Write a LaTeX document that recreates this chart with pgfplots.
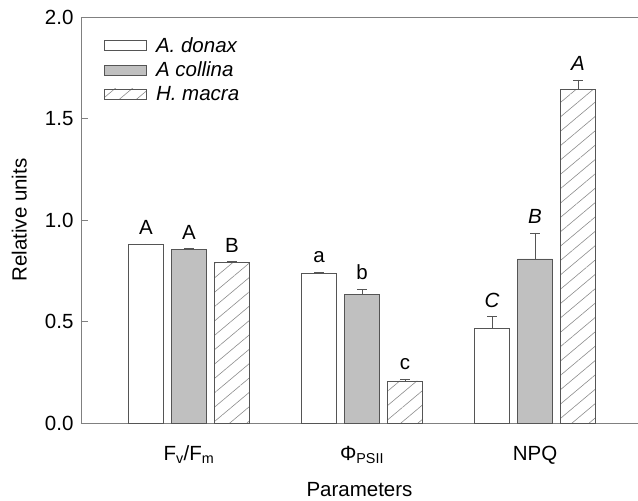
\documentclass[border=0pt]{standalone}
\usepackage{pgfplots}
\pgfplotsset{compat=1.18}
\usepackage{fontspec}
\setmainfont{Liberation Sans}
\usetikzlibrary{patterns.meta}

\definecolor{barline}{HTML}{555555}
\definecolor{axisgray}{HTML}{808080}
\definecolor{midgray}{HTML}{C0C0C0}

\newcommand{\bigf}{\fontsize{20.5}{23}\selectfont}

\pgfplotsset{
  errup/.style={
    error bars/.cd, y dir=plus, y explicit,
    error bar style={barline, line width=0.8pt},
    error mark options={rotate=90, barline, mark size=5pt, line width=0.8pt},
  },
}

\begin{document}
\begin{tikzpicture}
\begin{axis}[
  scale only axis, width=557pt, height=406pt,
  xmin=0.376, xmax=3.595, ymin=0, ymax=2,
  separate axis lines,
  axis x line*=box, axis y line*=left,
  axis line style={draw=axisgray, line width=0.8pt, -},
  tick label style={font=\bigf},
  label style={font=\bigf},
  xtick={1,2,3},
  xticklabels={F\textsubscript{v}/F\textsubscript{m}, Φ\textsubscript{PSII}, NPQ},
  xticklabel style={anchor=base, yshift=-30pt},
  x tick style={draw=none},
  ytick={0,0.5,1,1.5,2},
  yticklabel style={/pgf/number format/fixed, /pgf/number format/fixed zerofill,
                    /pgf/number format/precision=1, xshift=-4pt},
  /pgf/number format/assume math mode=true,
  y tick style={draw=axisgray, line width=0.8pt},
  tick align=inside, major tick length=7pt,
  ylabel={Relative units},
  ylabel style={at={(axis description cs:-0.111,0.5)}, anchor=center},
  xlabel={Parameters},
  xlabel style={at={(axis description cs:0.5,-0.182)}, anchor=base},
  ybar=8pt, bar width=35pt,
  legend style={draw=none, fill=none, at={(0.036,0.955)}, anchor=north west,
                row sep=8pt, font=\bigf\itshape,
                cells={anchor=west},
                nodes={inner xsep=9pt, inner ysep=0pt}},
  legend image code/.code={\draw[#1] (0pt,-5pt) rectangle (42pt,5pt);},
]
\coordinate (ll) at (rel axis cs:0,0);
\coordinate (ur) at (rel axis cs:1,1);

% A. donax
\addplot[draw=barline, fill=white, line width=0.8pt, errup]
  coordinates {(1,0.882) +- (0,0.0) (2,0.735) +- (0,0.008) (3,0.468) +- (0,0.055)};
\addlegendentry{A. donax}

% A collina
\addplot[draw=barline, fill=midgray, line width=0.8pt, errup]
  coordinates {(1,0.857) +- (0,0.004) (2,0.635) +- (0,0.025) (3,0.808) +- (0,0.128)};
\addlegendentry{A collina}

% H. macra
\addplot[draw=barline, line width=0.8pt, pattern color=gray!90,
         pattern={Lines[angle=40, distance=11pt, line width=0.6pt]}, errup]
  coordinates {(1,0.793) +- (0,0.004) (2,0.207) +- (0,0.008) (3,1.645) +- (0,0.045)};
\addlegendentry{H. macra}

% significance letters
\tikzset{lett/.style={anchor=south, inner sep=0pt, yshift=9pt, font=\bigf},
         lettit/.style={lett, font=\bigf\itshape}}
\node[lett, xshift=-43pt] at (axis cs:1,0.882) {A};
\node[lett]               at (axis cs:1,0.861) {A};
\node[lett, xshift=43pt]  at (axis cs:1,0.797) {B};
\node[lett, xshift=-43pt] at (axis cs:2,0.743) {a};
\node[lett]               at (axis cs:2,0.660) {b};
\node[lett, xshift=43pt]  at (axis cs:2,0.215) {c};
\node[lettit, xshift=-43pt] at (axis cs:3,0.523) {C};
\node[lettit]               at (axis cs:3,0.936) {B};
\node[lettit, xshift=43pt]  at (axis cs:3,1.690) {A};
\end{axis}
\pgfresetboundingbox
\path ([xshift=-81pt,yshift=-78pt]ll) rectangle ([yshift=17pt]ur);
\end{tikzpicture}
\end{document}
